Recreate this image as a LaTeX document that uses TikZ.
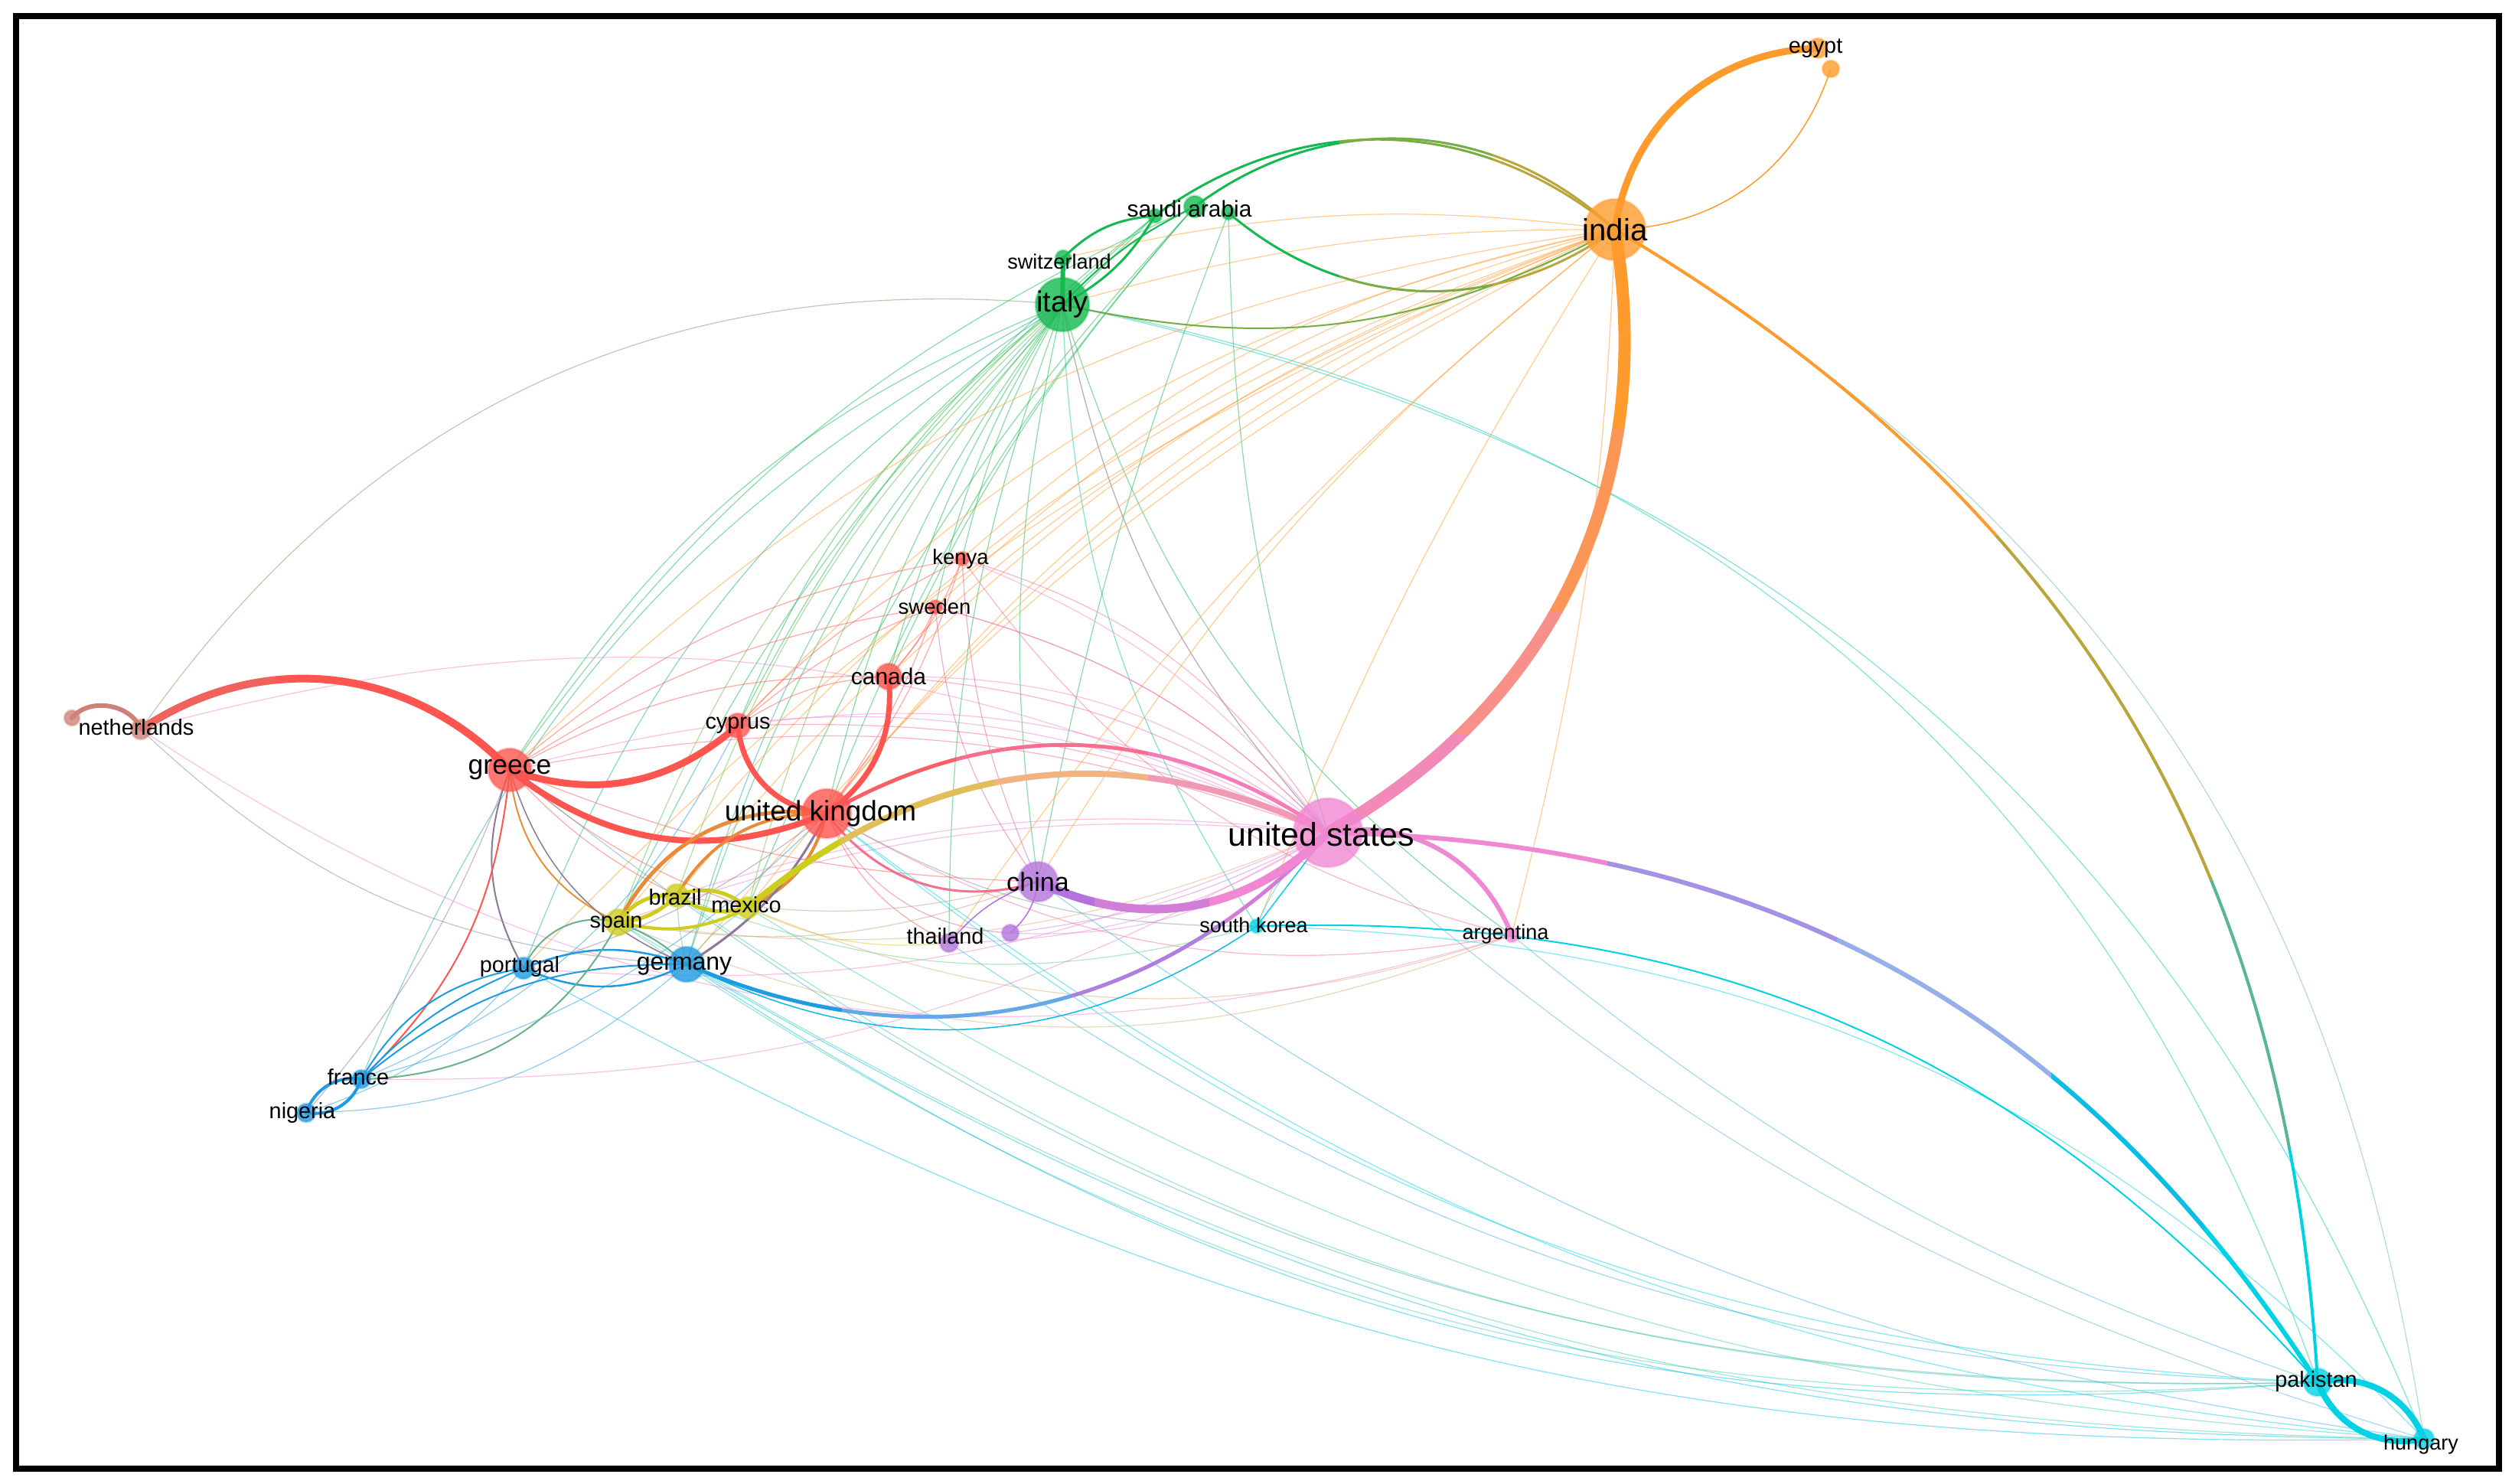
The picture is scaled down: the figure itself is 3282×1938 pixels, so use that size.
\documentclass[tikz,border=0pt]{standalone}
\usepackage{fontspec}
\setmainfont{Liberation Sans}

\definecolor{cred}{RGB}{255,85,80}
\definecolor{cgreen}{RGB}{20,185,80}
\definecolor{cblue}{RGB}{30,155,225}
\definecolor{cyel}{RGB}{205,205,30}
\definecolor{cpur}{RGB}{180,115,220}
\definecolor{ccyan}{RGB}{0,210,230}
\definecolor{cor}{RGB}{255,155,45}
\definecolor{cpink}{RGB}{240,135,210}
\definecolor{cbrown}{RGB}{205,130,120}
\definecolor{clav}{RGB}{150,175,235}
\definecolor{colive}{RGB}{185,165,60}
\definecolor{cteal}{RGB}{90,180,150}
\definecolor{cpeach}{RGB}{240,180,130}

\pgfdeclarelayer{bg}
\pgfdeclarelayer{fg}
\pgfsetlayers{bg,main,fg}

\tikzset{
  dot/.style={circle, inner sep=0pt, fill=#1, fill opacity=0.8, draw=#1, draw opacity=0.35, line width=0.03cm},
  lab/.style={font=\fontsize{#1}{#1}\selectfont, inner sep=0pt, text=black},
  faint/.style={line width=0.012cm, draw opacity=0.5},
}

% one coloured stretch of a wide link, cut out by a clip box
\newcommand\gradseg[7]{%
  \begin{scope}
    \clip #6 rectangle #7;
    \draw[line width=#4*0.01cm, draw=#5] (#1.center) to[bend left=#3] (#2.center);
  \end{scope}}

\begin{document}
\begin{tikzpicture}[x=0.01cm, y=-0.01cm]
\useasboundingbox (0,0) rectangle (3282,1938);

\foreach \n/\x/\y/\d/\c in {
  us/1735/1088/90/cpink, india/2110/300/80/cor, italy/1388/398/70/cgreen,
  uk/1080/1063/64/cred, greece/666/1006/56/cred, china/1356/1152/52/cpur,
  germany/897/1260/46/cblue, canada/1161/884/34/cred, cyprus/964/948/32/cred,
  spain/808/1205/34/cyel, brazil/884/1170/30/cyel, mexico/977/1186/28/cyel,
  portugal/684/1265/28/cblue, france/472/1410/24/cblue, nigeria/400/1454/24/cblue,
  neth/184/953/26/cbrown, nethb/94/938/20/cbrown,
  pakistan/3028/1806/36/ccyan, hungary/3167/1880/26/ccyan,
  saudi/1561/270/28/cgreen, saudib/1509/282/18/cgreen, saudic/1605/278/18/cgreen,
  swiss/1389/337/20/cgreen, egypt/2375/63/26/cor, egyptb/2392/90/22/cor,
  kenya/1257/730/18/cred, sweden/1222/793/18/cred,
  thailand/1240/1232/24/cpur, thaib/1320/1219/22/cpur,
  skorea/1642/1210/18/ccyan, argentina/1975/1222/18/cpink}
  \node[dot=\c, minimum size=\d*0.01cm] (\n) at (\x,\y) {};

\begin{pgfonlayer}{bg}
\fill[white] (0,0) rectangle (3282,1938);
\foreach \a/\b/\bd/\c in {
  italy/greece/-18/cgreen, italy/uk/-12/cgreen, italy/cyprus/-15/cgreen,
  italy/canada/-10/cgreen, italy/kenya/-8/cgreen, italy/sweden/-10/cgreen,
  italy/spain/-15/cgreen!60!cyel, italy/brazil/-14/cgreen!60!cyel, italy/mexico/-13/cgreen!60!cyel,
  italy/germany/-14/cgreen!50!cblue, italy/portugal/-18/cgreen!50!cblue, italy/china/-10/cgreen,
  italy/us/-15/cgreen, italy/thailand/-10/cgreen, italy/skorea/-15/cgreen!50!ccyan,
  italy/argentina/-18/cgreen, italy/france/-20/cgreen!50!cblue,
  italy/pakistan/30/cgreen!40!ccyan, italy/hungary/28/cgreen!40!ccyan, neth/italy/30/cbrown!50!cgreen,
  saudi/uk/-10/cgreen, saudi/greece/-15/cgreen, saudib/spain/-12/cgreen,
  saudib/cyprus/-12/cgreen, saudi/canada/-8/cgreen, saudic/china/-5/cgreen,
  saudic/us/-8/cgreen, saudi/mexico/-10/cgreen, saudib/germany/-14/cgreen,
  india/greece/-18/cor, india/uk/-15/cor, india/cyprus/-17/cor, india/canada/-12/cor,
  india/spain/-16/cor, india/brazil/-15/cor, india/mexico/-14/cor,
  india/germany/-12/cor, india/china/-10/cor, india/thailand/-8/cor,
  india/skorea/-5/cor, india/kenya/-15/cor, india/sweden/-14/cor,
  india/swiss/-10/cor, india/italy/-8/cor, india/argentina/6/cor,
  india/portugal/-12/cor, india/hungary/25/cor!40!ccyan,
  us/greece/-20/cpink, us/cyprus/-18/cpink, us/canada/-20/cpink, us/kenya/-15/cpink,
  us/sweden/-15/cpink, us/spain/-12/cpink, us/brazil/-12/cpink, us/portugal/14/cpink,
  us/france/15/cpink, us/neth/-20/cpink, us/thailand/15/cpink,
  us/thaib/20/cpink, us/italy/15/cpink, us/hungary/-12/cpink!40!ccyan,
  greece/canada/15/cred, greece/kenya/15/cred, greece/sweden/12/cred, greece/mexico/-10/cred,
  greece/brazil/-10/cred, greece/china/-10/cred, greece/us/15/cred!60!cpink,
  greece/nigeria/10/cred!50!cblue, cyprus/canada/15/cred, cyprus/kenya/10/cred, cyprus/sweden/10/cred,
  cyprus/us/12/cred!60!cpink, canada/kenya/-10/cred, canada/sweden/-10/cred, canada/us/15/cred!50!cpink,
  kenya/us/20/cred!50!cpink, sweden/us/15/cred!50!cpink, uk/kenya/-10/cred, uk/sweden/-8/cred,
  uk/thailand/-20/cred, uk/thaib/-30/cred!50!cpur, uk/argentina/-20/cred!50!cpink,
  uk/skorea/-15/cred!50!ccyan, uk/hungary/-16/ccyan, uk/pakistan/-18/ccyan,
  kenya/argentina/-20/cred!50!cpink, kenya/china/-10/cred!50!cpur, sweden/china/-15/cred!50!cpur,
  greece/pakistan/-20/ccyan!70!cred, spain/pakistan/-19/ccyan!70!cyel, spain/hungary/-15/ccyan!70!cyel,
  germany/pakistan/-19/ccyan!70!cblue, germany/hungary/-15/ccyan!70!cblue, portugal/hungary/-15/ccyan!70!cblue,
  brazil/pakistan/-18/ccyan!70!cyel, mexico/hungary/-14/ccyan!70!cyel, china/hungary/-14/ccyan!70!cpur,
  thailand/pakistan/-16/ccyan!70!cpur, argentina/pakistan/-10/ccyan!70!cpink, skorea/hungary/22/ccyan,
  spain/us/-15/cyel!50!cpink, spain/china/-15/cyel!50!cpur, brazil/china/-12/cyel!50!cpur,
  mexico/thailand/-15/cyel, mexico/argentina/-20/cyel!50!cpink, brazil/skorea/-18/cyel!50!ccyan,
  spain/argentina/-22/cyel!50!cpink, neth/argentina/-25/cpink, neth/germany/-20/cbrown!50!cblue,
  germany/brazil/5/cblue!50!cyel, germany/mexico/10/cblue!50!cyel, portugal/uk/-10/cblue!50!cred,
  france/uk/-15/cblue, france/cyprus/-20/cblue, nigeria/germany/-20/cblue,
  portugal/nigeria/15/cblue, skorea/us/15/ccyan, thaib/us/-10/cpur!50!cpink}
  \draw[faint, draw=\c] (\a.center) to[bend left=\bd] (\b.center);

\foreach \a/\b/\bd/\w/\c in {
  india/egypt/40/9/cor, india/egyptb/-35/1.5/cor,
  neth/nethb/-60/6/cbrown,
  greece/cyprus/-30/9/cred, greece/uk/-30/8/cred, cyprus/uk/-40/7/cred, canada/uk/30/7/cred,
  us/argentina/40/6/cpink,
  pakistan/hungary/40/8/ccyan, pakistan/hungary/-40/8/ccyan,
  italy/swiss/0/6/cgreen, italy/saudib/-15/3/cgreen, swiss/saudib/20/3/cgreen, italy/saudi/10/2/cgreen,
  italy/india/-20/2/cgreen!60!cor,
  spain/uk/35/5/cyel!45!cred, brazil/uk/30/4/cyel!45!cred, mexico/uk/-25/4/cyel!45!cred,
  spain/brazil/30/5/cyel, spain/brazil/-20/5/cyel, brazil/mexico/30/5/cyel, brazil/mexico/-25/5/cyel,
  spain/mexico/-20/4/cyel, greece/spain/-30/2/cred!50!cyel, greece/germany/-25/1.5/cred!50!cblue,
  greece/portugal/-25/2/cred!50!cblue, greece/france/20/2/cred,
  portugal/germany/20/2.5/cblue, portugal/germany/-25/2.5/cblue,
  portugal/france/-25/2/cblue, portugal/france/-12/2/cblue, germany/france/-20/2/cblue,
  france/nigeria/40/4/cblue, france/nigeria/-40/4/cblue,
  spain/france/30/2/cyel!45!cblue, spain/portugal/-40/2/cyel!45!cblue,
  germany/uk/-15/3/cblue!50!cred, spain/germany/10/2/cyel!40!cblue, uk/china/-35/3/cred!50!cpink,
  china/thailand/-15/1.5/cpur, china/thaib/20/1.5/cpur, skorea/pakistan/25/2/ccyan,
  germany/skorea/-30/1.5/ccyan!60!cblue, skorea/us/0/1.5/ccyan}
  \draw[line width=\w*0.01cm, draw=\c, line cap=round] (\a.center) to[bend left=\bd] (\b.center);

\gradseg{greece}{neth}{-40}{10}{cred}{(360,0)}{(3282,1938)}
\gradseg{greece}{neth}{-40}{10}{cred!70!cbrown}{(0,0)}{(360,1938)}
\gradseg{saudi}{india}{40}{3}{cgreen}{(0,0)}{(1750,1938)}
\gradseg{saudi}{india}{40}{3}{colive!60!cgreen}{(1750,0)}{(1950,1938)}
\gradseg{saudi}{india}{40}{3}{colive}{(1950,0)}{(3282,1938)}
\gradseg{saudib}{india}{38}{3}{cgreen}{(0,0)}{(1750,1938)}
\gradseg{saudib}{india}{38}{3}{colive!60!cgreen}{(1750,0)}{(1950,1938)}
\gradseg{saudib}{india}{38}{3}{colive}{(1950,0)}{(3282,1938)}
\gradseg{saudic}{india}{-38}{3}{cgreen}{(0,0)}{(1750,1938)}
\gradseg{saudic}{india}{-38}{3}{colive!60!cgreen}{(1750,0)}{(1950,1938)}
\gradseg{saudic}{india}{-38}{3}{colive}{(1950,0)}{(3282,1938)}
\gradseg{uk}{us}{32}{5}{cred!85!cpink}{(0,0)}{(1250,1938)}
\gradseg{uk}{us}{32}{5}{cred!50!cpink}{(1250,0)}{(1500,1938)}
\gradseg{uk}{us}{32}{5}{cred!20!cpink}{(1500,0)}{(3282,1938)}
\gradseg{mexico}{us}{33}{8}{cyel}{(0,0)}{(1100,1938)}
\gradseg{mexico}{us}{33}{8}{cyel!40!cpeach}{(1100,0)}{(1300,1938)}
\gradseg{mexico}{us}{33}{8}{cpeach}{(1300,0)}{(1500,1938)}
\gradseg{mexico}{us}{33}{8}{cpeach!40!cpink}{(1500,0)}{(3282,1938)}
\gradseg{germany}{us}{-35}{5}{cblue}{(0,0)}{(1100,1938)}
\gradseg{germany}{us}{-35}{5}{clav!60!cblue}{(1100,0)}{(1400,1938)}
\gradseg{germany}{us}{-35}{5}{cpur!80!clav}{(1400,0)}{(1600,1938)}
\gradseg{germany}{us}{-35}{5}{cpur!50!cpink}{(1600,0)}{(3282,1938)}
\gradseg{china}{us}{-35}{11}{cpur}{(0,0)}{(1430,1938)}
\gradseg{china}{us}{-35}{11}{cpur!50!cpink}{(1430,0)}{(1580,1938)}
\gradseg{china}{us}{-35}{11}{cpink}{(1580,0)}{(3282,1938)}
\gradseg{us}{pakistan}{28}{6}{cpink}{(0,0)}{(2100,1938)}
\gradseg{us}{pakistan}{28}{6}{cpur!50!clav}{(2100,0)}{(2400,1938)}
\gradseg{us}{pakistan}{28}{6}{clav}{(2400,0)}{(2680,1938)}
\gradseg{us}{pakistan}{28}{6}{cblue!40!ccyan}{(2680,0)}{(2880,1938)}
\gradseg{us}{pakistan}{28}{6}{ccyan}{(2880,0)}{(3282,1938)}
\gradseg{india}{pakistan}{28}{4}{cor}{(0,0)}{(3282,700)}
\gradseg{india}{pakistan}{28}{4}{colive}{(0,700)}{(3282,1150)}
\gradseg{india}{pakistan}{28}{4}{cteal}{(0,1150)}{(3282,1500)}
\gradseg{india}{pakistan}{28}{4}{ccyan}{(0,1500)}{(3282,1938)}
\gradseg{india}{us}{35}{16}{cor}{(0,0)}{(3282,560)}
\gradseg{india}{us}{35}{16}{cor!75!cpink}{(0,560)}{(3282,800)}
\gradseg{india}{us}{35}{16}{cor!45!cpink}{(0,800)}{(3282,960)}
\gradseg{india}{us}{35}{16}{cor!15!cpink}{(0,960)}{(3282,1938)}
\end{pgfonlayer}

\begin{pgfonlayer}{fg}
\foreach \n/\t/\s/\dx/\dy in {
  us/united states/12.2/-9/2, india/india/11.4/0/0, italy/italy/10.8/0/0,
  uk/united kingdom/10.5/-8/0, greece/greece/10.1/0/0, china/china/9.7/0/0,
  germany/germany/9.1/-3/2, canada/canada/8.5/0/0, cyprus/cyprus/8.2/0/0,
  saudi/saudi arabia/8.5/-7/3, swiss/switzerland/7.7/-5/5, egypt/egypt/8.2/-3/0,
  neth/netherlands/8.2/-6/-3, spain/spain/8.2/-3/0, brazil/brazil/8.2/-2/2,
  mexico/mexico/8.2/-2/-4, portugal/portugal/8.2/-5/-2, france/france/8.2/-4/-3,
  nigeria/nigeria/8.2/-5/0, kenya/kenya/7.8/-2/0, sweden/sweden/7.8/-1/0,
  thailand/thailand/8.2/-5/-9, skorea/south korea/7.7/-4/-1, argentina/argentina/7.7/-8/-2,
  pakistan/pakistan/8.2/-2/-1, hungary/hungary/7.7/-4/7}
  \node[lab=\s] (\n-l) at ([shift={(\dx,\dy)}]\n) {\t};
\draw[line width=0.08cm] (21,21) rectangle (3265,1919);
\end{pgfonlayer}
\end{tikzpicture}
\end{document}
